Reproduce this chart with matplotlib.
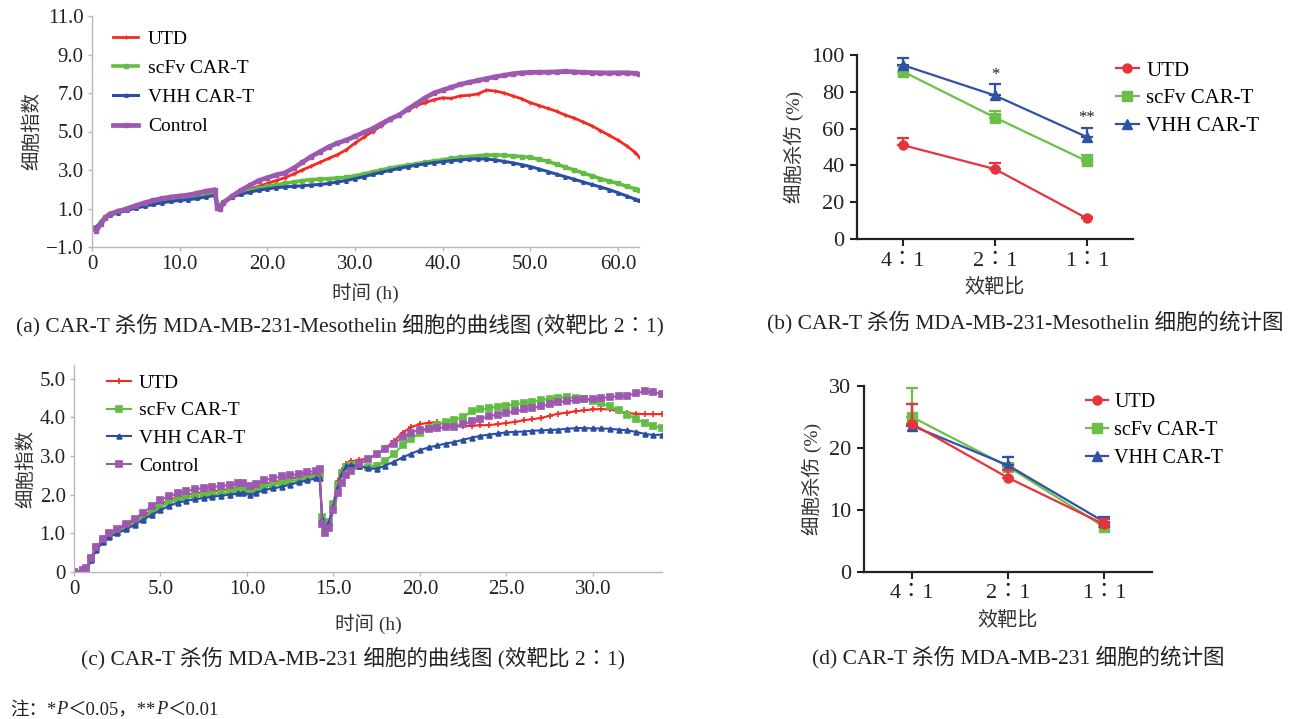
import matplotlib.pyplot as plt
import matplotlib.transforms as mtransforms
import numpy as np
from matplotlib.lines import Line2D
from matplotlib.ticker import FuncFormatter

plt.rcParams['font.family'] = ['Liberation Serif', 'Noto Sans CJK SC']
plt.rcParams['axes.unicode_minus'] = True

W, H = 1293, 719

names = ['UTD', 'scFv CAR-T', 'VHH CAR-T', 'Control']
ratios = ['4\u22361', '2\u22361', '1\u22361']

# ---- (a) MDA-MB-231-Mesothelin, real-time cell index
time_a = [0, 0.5, 1, 1.5, 2, 3, 4, 5, 6, 7, 8, 9, 10, 11, 12, 13, 14, 14.3, 14.6,
          15, 16, 17, 18, 19, 20, 21, 22, 23, 24, 25, 26, 27, 28, 29, 30, 31, 32, 33, 34,
          35, 36, 37, 38, 39, 40, 41, 42, 43, 44, 45, 46, 47, 48, 49, 50, 51, 52, 53, 54,
          55, 56, 57, 58, 59, 60, 61, 62, 62.4]
utd_a = [0, -0.05, 0.3, 0.6, 0.75, 0.9, 1.0, 1.12, 1.25, 1.35, 1.45, 1.52, 1.58, 1.62, 1.7, 1.8, 1.88,
         1.15, 1.12,
         1.35, 1.65, 1.85, 2.0, 2.15, 2.3, 2.45, 2.6, 2.8, 3.0, 3.2, 3.4, 3.6, 3.8, 4.05, 4.4, 4.7, 5.0,
         5.3, 5.6, 5.85, 6.1, 6.35, 6.5, 6.65, 6.75, 6.72, 6.85, 6.88, 6.95, 7.15, 7.1, 7.0, 6.85, 6.7,
         6.5, 6.35, 6.2, 6.05, 5.85, 5.7, 5.5, 5.3, 5.05, 4.8, 4.55, 4.25, 3.9, 3.7]
scfv_a = [0, 0.0, 0.3, 0.55, 0.7, 0.82, 0.95, 1.08, 1.2, 1.3, 1.4, 1.47, 1.52, 1.56, 1.62, 1.7, 1.78,
          1.15, 1.18,
          1.35, 1.62, 1.8, 1.95, 2.05, 2.15, 2.22, 2.3, 2.38, 2.45, 2.5, 2.52, 2.55, 2.58, 2.62, 2.7,
          2.8, 2.9, 3.0, 3.1, 3.18, 3.25, 3.32, 3.4, 3.47, 3.53, 3.6, 3.65, 3.7, 3.74, 3.77, 3.78, 3.77,
          3.73, 3.7, 3.65, 3.55, 3.45, 3.3, 3.15, 3.0, 2.85, 2.7, 2.55, 2.42, 2.3, 2.15, 2.02, 1.97]
vhh_a = [0, 0.05, 0.25, 0.5, 0.65, 0.78, 0.9, 1.02, 1.12, 1.22, 1.3, 1.37, 1.42, 1.46, 1.52, 1.6, 1.68,
         1.1, 1.12,
         1.3, 1.6, 1.75, 1.85, 1.95, 2.02, 2.08, 2.12, 2.15, 2.18, 2.22, 2.25, 2.3, 2.38, 2.45, 2.55,
         2.65, 2.77, 2.88, 2.98, 3.08, 3.17, 3.25, 3.32, 3.38, 3.43, 3.48, 3.52, 3.56, 3.58, 3.57, 3.52,
         3.45, 3.37, 3.28, 3.18, 3.05, 2.92, 2.78, 2.65, 2.52, 2.38, 2.25, 2.12, 1.98, 1.82, 1.65, 1.48,
         1.42]
ctrl_a = [0, -0.15, 0.2, 0.5, 0.7, 0.85, 1.0, 1.15, 1.3, 1.42, 1.52, 1.6, 1.65, 1.7, 1.8, 1.9, 1.98,
          1.05, 1.0,
          1.3, 1.65, 1.95, 2.2, 2.45, 2.6, 2.75, 2.85, 3.1, 3.4, 3.7, 3.95, 4.2, 4.4, 4.55, 4.75, 4.95,
          5.15, 5.4, 5.65, 5.85, 6.15, 6.45, 6.75, 7.0, 7.15, 7.3, 7.45, 7.55, 7.65, 7.75, 7.85, 7.92,
          8.0, 8.05, 8.07, 8.08, 8.08, 8.1, 8.12, 8.1, 8.07, 8.06, 8.05, 8.04, 8.05, 8.05, 8.02, 7.98]

# ---- (c) MDA-MB-231, real-time cell index
time_c = [0, 0.5, 0.7, 1.0, 1.3, 1.7, 2.0, 2.5, 3.0, 3.5, 4.0, 4.5, 5.0, 5.5, 6.0, 6.5, 7.0, 7.5,
          8.0, 8.5, 9.0, 9.5, 9.8, 10.2, 10.5, 11.0, 11.5, 12.0, 12.5, 13.0, 13.5, 14.0,
          14.2, 14.35, 14.5, 14.75, 15.0, 15.25, 15.5, 15.75,
          16.0, 16.5, 17.0, 17.5, 18.0, 18.5, 19.0, 19.5, 20.0, 20.5, 21.0, 21.5, 22.0, 22.5,
          23.0, 23.5, 24.0, 24.5, 25.0, 25.5, 26.0, 26.5, 27.0, 27.5, 28.0, 28.5, 29.0, 29.5,
          30.0, 30.5, 31.0, 31.5, 32.0, 32.5, 33.0, 33.5, 34.0]
utd_c = [0.0, 0.05, 0.1, 0.37, 0.68, 0.82, 0.97, 1.08, 1.2, 1.32, 1.45, 1.6, 1.75, 1.86, 1.94, 1.99,
         2.03, 2.06, 2.08, 2.11, 2.14, 2.18, 2.2, 2.15, 2.2, 2.27, 2.32, 2.36, 2.41, 2.45, 2.5, 2.55,
         2.6, 1.35, 1.15, 1.3, 1.75, 2.35, 2.64, 2.8,
         2.86, 2.9, 2.93, 3.03, 3.2, 3.38, 3.6, 3.75, 3.82, 3.86, 3.87, 3.82, 3.77, 3.77,
         3.78, 3.79, 3.8, 3.82, 3.85, 3.88, 3.92, 3.95, 3.98, 4.04, 4.09, 4.12, 4.15, 4.18,
         4.2, 4.21, 4.2, 4.16, 4.11, 4.09, 4.08, 4.08, 4.08]
scfv_c = [0.0, 0.02, 0.05, 0.33, 0.62, 0.8, 0.93, 1.04, 1.15, 1.27, 1.4, 1.55, 1.69, 1.8, 1.88, 1.93,
          1.96, 1.98, 2.0, 2.03, 2.06, 2.1, 2.12, 2.07, 2.12, 2.2, 2.25, 2.29, 2.34, 2.38, 2.43, 2.48,
          2.5, 1.43, 1.2, 1.3, 1.75, 2.25, 2.56, 2.72,
          2.76, 2.74, 2.72, 2.75, 2.88, 3.05, 3.28, 3.45, 3.59, 3.72, 3.81, 3.88, 3.94, 4.0,
          4.15, 4.2, 4.24, 4.27, 4.3, 4.33, 4.37, 4.4, 4.44, 4.48, 4.51, 4.52, 4.5, 4.46,
          4.42, 4.36, 4.28, 4.18, 4.07, 3.96, 3.85, 3.78, 3.72]
vhh_c = [0.0, 0.0, 0.02, 0.3, 0.58, 0.78, 0.9, 1.0, 1.1, 1.22, 1.35, 1.48, 1.6, 1.71, 1.79, 1.84,
         1.88, 1.91, 1.95, 1.97, 2.0, 2.03, 2.05, 2.0, 2.04, 2.12, 2.16, 2.2, 2.26, 2.32, 2.37, 2.42,
         2.42, 1.37, 1.15, 1.3, 1.7, 2.2, 2.56, 2.73,
         2.76, 2.74, 2.68, 2.67, 2.75, 2.85, 2.96, 3.06, 3.15, 3.22, 3.27, 3.32, 3.36, 3.42,
         3.47, 3.52, 3.55, 3.58, 3.61, 3.62, 3.63, 3.65, 3.66, 3.67, 3.68, 3.7, 3.72, 3.72,
         3.71, 3.71, 3.7, 3.68, 3.66, 3.62, 3.57, 3.54, 3.55]
ctrl_c = [0.0, 0.05, 0.1, 0.37, 0.65, 0.85, 1.0, 1.12, 1.25, 1.38, 1.53, 1.7, 1.86, 1.96, 2.03, 2.09,
          2.14, 2.17, 2.2, 2.22, 2.25, 2.29, 2.31, 2.22, 2.28, 2.37, 2.42, 2.47, 2.5, 2.53, 2.58, 2.62,
          2.66, 1.25, 1.0, 1.15, 1.6, 2.05, 2.3, 2.5,
          2.6, 2.78, 2.92, 3.05, 3.18, 3.32, 3.48, 3.6, 3.68, 3.7, 3.72, 3.74, 3.76, 3.82,
          3.89, 3.96, 4.02, 4.07, 4.11, 4.15, 4.2, 4.24, 4.28, 4.34, 4.39, 4.41, 4.44, 4.46,
          4.48, 4.5, 4.52, 4.54, 4.56, 4.62, 4.67, 4.65, 4.6]

# ---- (b) killing (%) vs E:T ratio, Mesothelin cells
utd_b = [51, 38, 11.2]
utd_b_err = [4, 3.3, 1]
scfv_b = [91, 66, 42.3]
scfv_b_err = [3, 3.6, 3.5]
vhh_b = [94.5, 78, 55.4]
vhh_b_err = [3.8, 6, 5]

# ---- (d) killing (%) vs E:T ratio, MDA-MB-231
utd_d = [23.9, 15.2, 7.7]
utd_d_err = [3.2, 1.2, 0.8]
scfv_d = [25.0, 17.0, 7.3]
scfv_d_err = [4.6, 1.5, 0.5]
vhh_d = [23.6, 17.2, 8.1]
vhh_d_err = [3.5, 1.3, 0.8]

curve_colors = ['#f42a22', '#62bd45', '#2b4ea5', '#9d58b0']
stat_colors = ['#e8323c', '#6cc04a', '#2f52a4']


def box(l, t, r, b):
    return [l / W, 1 - b / H, (r - l) / W, (b - t) / H]


def num_fmt(v, pos):
    if abs(v) < 1e-9:
        return '0'
    return ('%.1f' % v).replace('-', '\u2212')


def style_curve_axes(ax):
    for s in ['top', 'right']:
        ax.spines[s].set_visible(False)
    for s in ['left', 'bottom']:
        ax.spines[s].set_color('#b8b8b8')
        ax.spines[s].set_linewidth(1.0)
    ax.tick_params(color='#b8b8b8', length=3, width=1, labelsize=15, labelcolor='#222222', pad=3)
    ax.xaxis.set_major_formatter(FuncFormatter(num_fmt))
    ax.yaxis.set_major_formatter(FuncFormatter(num_fmt))


def style_stat_axes(ax):
    for s in ['top', 'right']:
        ax.spines[s].set_visible(False)
    for s in ['left', 'bottom']:
        ax.spines[s].set_linewidth(1.6)
        ax.spines[s].set_color('#222222')
    ax.tick_params(length=5, width=1.5, labelsize=16, labelcolor='#222222', color='#222222', pad=4)
    ax.set_xticks(range(3))
    ax.set_xticklabels(ratios)
    ax.set_xlim(-0.5, 2.5)


def stat_handles(markers):
    return [Line2D([], [], color=c, marker=m, ms=6.5, lw=1.6) for c, m in zip(stat_colors, markers)]


fig = plt.figure(figsize=(W / 100, H / 100), dpi=100)

# (a)
axa = fig.add_axes(box(92, 16, 639, 247))
series_a = [utd_a, scfv_a, vhh_a, ctrl_a]
mk = ['+', 's', '^', 's']
ms_a = [3.5, 2.5, 2.5, 3.2]
lw_a = [2.0, 2.6, 2.2, 3.4]
for vals, c, m, s, lw, name in zip(series_a, curve_colors, mk, ms_a, lw_a, names):
    axa.plot(time_a, vals, color=c, marker=m, ms=s, lw=lw, mew=1.0, label=name)
axa.set_xlim(0, 62.4)
axa.set_ylim(-1, 11)
axa.set_xticks(np.arange(0, 61, 10))
axa.set_yticks(np.arange(-1, 12, 2))
style_curve_axes(axa)
axa.set_xlabel('时间 (h)', fontsize=14, color='#333333', labelpad=6)
axa.set_ylabel('细胞指数', fontsize=14, color='#333333', labelpad=3)
axa.legend(loc='upper left', bbox_to_anchor=(113 / W, 1 - 30 / H), bbox_transform=fig.transFigure,
           frameon=False, borderpad=0, borderaxespad=0, fontsize=14, handlelength=1.3,
           handletextpad=0.5, labelspacing=0.6, numpoints=1)

# (c)
axc = fig.add_axes(box(74, 365, 662, 572))
series_c = [utd_c, scfv_c, vhh_c, ctrl_c]
ms_c = [4.5, 3.8, 3.5, 4.8]
for vals, c, m, s, name in zip(series_c, curve_colors, mk, ms_c, names):
    axc.plot(time_c, vals, color=c, marker=m, ms=s, lw=1.5, mew=1.2, label=name)
axc.set_xlim(0, 34)
axc.set_ylim(0, 5.35)
axc.set_xticks(np.arange(0, 31, 5))
axc.set_yticks(np.arange(0, 5.1, 1))
style_curve_axes(axc)
axc.set_xlabel('时间 (h)', fontsize=14, color='#333333', labelpad=10)
axc.set_ylabel('细胞指数', fontsize=14, color='#333333', labelpad=3)
axc.legend(loc='upper left', bbox_to_anchor=(107 / W, 1 - 374 / H), bbox_transform=fig.transFigure,
           frameon=False, borderpad=0, borderaxespad=0, fontsize=14, handlelength=1.25,
           handletextpad=0.4, labelspacing=0.52, numpoints=1)

# (b)
axb = fig.add_axes(box(857, 55, 1133, 239))
x = np.arange(3)
mk_s = ['o', 's', '^']
for vals, err, c, m, name in zip([utd_b, scfv_b, vhh_b], [utd_b_err, scfv_b_err, vhh_b_err],
                                 stat_colors, mk_s, names[:3]):
    axb.errorbar(x, vals, yerr=[np.zeros(3), err], color=c, marker=m, ms=6.5, lw=1.6,
                 elinewidth=1.6, capsize=4, capthick=1.6, clip_on=False)
axb.text(1, 89, '*', ha='center', va='center', fontsize=12, color='#222222')
axb.text(2, 66, '**', ha='center', va='center', fontsize=12, color='#222222')
axb.set_ylim(0, 100)
axb.set_yticks(np.arange(0, 101, 20))
style_stat_axes(axb)
axb.set_xlabel('效靶比', fontsize=14.5, color='#333333', labelpad=6)
axb.set_ylabel('细胞杀伤 (%)', fontsize=14, color='#333333', labelpad=5)
axb.legend(stat_handles(mk_s), names[:3], loc='upper left', bbox_to_anchor=(1116 / W, 1 - 61 / H),
           bbox_transform=fig.transFigure, frameon=False, borderpad=0, borderaxespad=0, fontsize=15,
           handlelength=1.1, handletextpad=0.35, labelspacing=0.4, numpoints=1)

# (d)
axd = fig.add_axes(box(864, 386, 1152, 572))
for vals, err, c, m, name, z in zip([utd_d, scfv_d, vhh_d], [utd_d_err, scfv_d_err, vhh_d_err],
                                    stat_colors, mk_s, names[:3], [4, 2, 3]):
    axd.errorbar(x, vals, yerr=[np.zeros(3), err], color=c, marker=m, ms=6.5, lw=1.6,
                 elinewidth=1.6, capsize=4, capthick=1.6, clip_on=False, zorder=z)
axd.set_ylim(0, 30)
axd.set_yticks(np.arange(0, 31, 10))
style_stat_axes(axd)
axd.set_xlabel('效靶比', fontsize=14.5, color='#333333', labelpad=6)
axd.set_ylabel('细胞杀伤 (%)', fontsize=14, color='#333333', labelpad=5)
axd.legend(stat_handles(mk_s), names[:3], loc='upper left', bbox_to_anchor=(1086 / W, 1 - 393 / H),
           bbox_transform=fig.transFigure, frameon=False, borderpad=0, borderaxespad=0, fontsize=14.5,
           handlelength=1.1, handletextpad=0.3, labelspacing=0.45, numpoints=1)

# captions
cap = 15.5
fig.text(340 / W, 1 - 325 / H, '(a) CAR-T 杀伤 MDA-MB-231-Mesothelin 细胞的曲线图 (效靶比 2\u22361)',
         ha='center', va='center', fontsize=cap, color='#222222')
fig.text(1025 / W, 1 - 322 / H, '(b) CAR-T 杀伤 MDA-MB-231-Mesothelin 细胞的统计图',
         ha='center', va='center', fontsize=cap, color='#222222')
fig.text(353 / W, 1 - 658 / H, '(c) CAR-T 杀伤 MDA-MB-231 细胞的曲线图 (效靶比 2\u22361)',
         ha='center', va='center', fontsize=cap, color='#222222')
fig.text(1018 / W, 1 - 657 / H, '(d) CAR-T 杀伤 MDA-MB-231 细胞的统计图',
         ha='center', va='center', fontsize=cap, color='#222222')

# footnote with italic P
renderer = fig.canvas.get_renderer()
px = 10
pieces = [('注：*', 'normal'), ('P', 'italic'), ('＜0.05，**', 'normal'), ('P', 'italic'), ('＜0.01', 'normal')]
for s, st in pieces:
    t = fig.text(px, H - 710, s, fontsize=13.3, style=st, va='center', ha='left', color='#222222',
                 transform=mtransforms.IdentityTransform())
    px += t.get_window_extent(renderer).width

fig.savefig('out.png', dpi=100)
